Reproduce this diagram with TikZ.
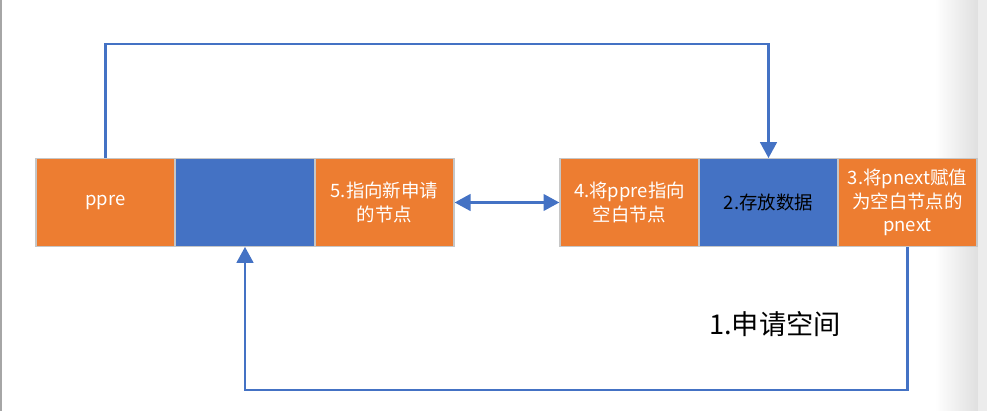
\documentclass[tikz,border=0pt]{standalone}
\usepackage{fontspec}
\newfontfamily\cjk{Noto Sans CJK SC}
\usetikzlibrary{arrows.meta}
\definecolor{cellorange}{HTML}{ED7D31}
\definecolor{cellblue}{HTML}{4472C4}

\begin{document}
\begin{tikzpicture}[x=0.02cm, y=-0.02cm]

\tikzstyle{every node} = [font=\cjk\fontsize{10.5}{13.5}\selectfont, align=center, inner sep=0pt]
\tikzstyle{cell} = [rectangle, draw=gray!45, line width=0.8pt, minimum width=2.78cm, minimum height=1.75cm, fill=cellorange, text=white]
\tikzstyle{link} = [draw=cellblue, line width=1.2pt, -{Triangle[width=9.5pt,length=9pt]}]

\useasboundingbox (0,0) rectangle (987,411);
\fill[left color=white, right color=gray!25] (935,0) rectangle (978,411);
\fill[gray!15] (978,0) rectangle (987,411);
\draw[gray!70, line width=1pt] (1,0) -- (1,411);

\node[cell] (ppre) at (105.5,202.5) {ppre};
\node[cell, fill=cellblue] (blank) at (245,202.5) {};
\node[cell] (point) at (384.5,202.5) {5.指向新申请\\的节点};

\node[cell] (setp) at (629.5,202.5) {4.将ppre指向\\空白节点};
\node[cell, fill=cellblue, text=black] (store) at (768.5,202.5) {2.存放数据};
\node[cell] (pnext) at (907.5,202.5) {3.将pnext赋值\\为空白节点的\\pnext};

\node[font=\cjk\fontsize{15.5}{18}\selectfont] (apply) at (775,324) {1.申请空间};

\coordinate (top) at (437,44);
\coordinate (bottom) at (576,390);

\draw[link] (ppre.north) |- (top) -| (store.north);
\draw[link] (pnext.south) |- (bottom) -| (blank.south);
\draw[link, {Triangle[width=9.5pt,length=9pt]}-{Triangle[width=9.5pt,length=9pt]}] (point.east) -- (setp.west);

\end{tikzpicture}
\end{document}
